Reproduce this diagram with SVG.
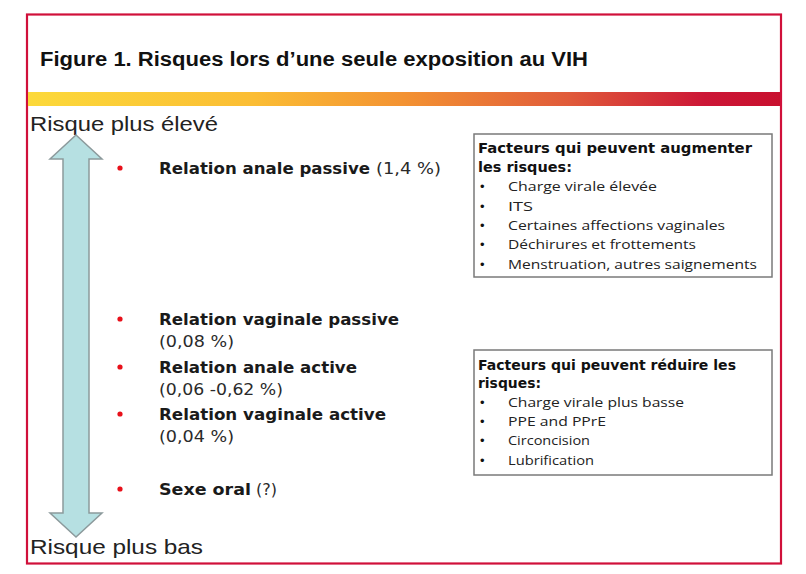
<svg xmlns="http://www.w3.org/2000/svg" width="806" height="574" viewBox="0 0 806 574">
<defs>
<linearGradient id="band" x1="0" y1="0" x2="1" y2="0">
<stop offset="0" stop-color="#fcd93a"/>
<stop offset="0.3" stop-color="#fbbd34"/>
<stop offset="0.5" stop-color="#f39232"/>
<stop offset="0.72" stop-color="#e05a3a"/>
<stop offset="0.9" stop-color="#cc1636"/>
<stop offset="1" stop-color="#c8102e"/>
</linearGradient>
</defs>
<style>
.title{font-family:"Liberation Sans",Arial,sans-serif;font-weight:bold;font-size:20px;fill:#111}
.axis{font-family:"Liberation Sans",Arial,sans-serif;font-size:21px;fill:#222}
.rb{font-family:"DejaVu Sans",Verdana,sans-serif;font-weight:bold;font-size:16px;fill:#1a1a1a}
.rn{font-family:"DejaVu Sans",Verdana,sans-serif;font-size:16px;fill:#2a2a2a}
.dot{fill:#e8101a}
.box{fill:#fff;stroke:#7a7a7a;stroke-width:1.5}
.bh{font-family:"DejaVu Sans",Verdana,sans-serif;font-weight:bold;font-size:13.5px;fill:#111}
.bi{font-family:"Open Sans","Noto Sans",sans-serif;font-size:13.5px;fill:#222}
.bul{font-family:"Liberation Sans",Arial,sans-serif;font-size:13px;fill:#111}
</style>
<rect x="0" y="0" width="806" height="574" fill="#fff"/>
<rect x="27" y="14.5" width="754" height="549" fill="#fff" stroke="#d0103a" stroke-width="2.2"/>
<text class="title" x="40" y="66" textLength="548" lengthAdjust="spacingAndGlyphs">Figure 1. Risques lors d’une seule exposition au VIH</text>
<rect x="28" y="92" width="752" height="14" fill="url(#band)"/>
<text class="axis" x="30" y="131" textLength="188" lengthAdjust="spacingAndGlyphs">Risque plus élevé</text>
<text class="axis" x="30" y="554" textLength="173" lengthAdjust="spacingAndGlyphs">Risque plus bas</text>
<g id="arrow">
<path d="M76,135 L102,159 L89,159 L89,513 L102,513 L76,537 L50,513 L63,513 L63,159 L50,159 Z" fill="#b6e0e2" stroke="#8c9a9c" stroke-width="1.5" stroke-linejoin="miter"/>
</g>
<g id="risk1">
<circle class="dot" cx="120" cy="168" r="2.6"/>
<text x="159" y="174"><tspan class="rb" textLength="211" lengthAdjust="spacingAndGlyphs">Relation anale passive</tspan><tspan class="rn" x="376" textLength="65" lengthAdjust="spacingAndGlyphs">(1,4 %)</tspan></text>
</g>
<g id="risk2">
<circle class="dot" cx="120" cy="319" r="2.6"/>
<text class="rb" x="159" y="325" textLength="240" lengthAdjust="spacingAndGlyphs">Relation vaginale passive</text>
<text class="rn" x="159" y="347" textLength="75" lengthAdjust="spacingAndGlyphs">(0,08 %)</text>
</g>
<g id="risk3">
<circle class="dot" cx="120" cy="367" r="2.6"/>
<text class="rb" x="159" y="373" textLength="198" lengthAdjust="spacingAndGlyphs">Relation anale active</text>
<text class="rn" x="159" y="395" textLength="124" lengthAdjust="spacingAndGlyphs">(0,06 -0,62 %)</text>
</g>
<g id="risk4">
<circle class="dot" cx="120" cy="414" r="2.6"/>
<text class="rb" x="159" y="420" textLength="227" lengthAdjust="spacingAndGlyphs">Relation vaginale active</text>
<text class="rn" x="159" y="442" textLength="75" lengthAdjust="spacingAndGlyphs">(0,04 %)</text>
</g>
<g id="risk5">
<circle class="dot" cx="120" cy="489" r="2.6"/>
<text x="159" y="495"><tspan class="rb" textLength="92" lengthAdjust="spacingAndGlyphs">Sexe oral</tspan><tspan class="rn" x="256" textLength="21" lengthAdjust="spacingAndGlyphs">(?)</tspan></text>
</g>
<g id="box-augmenter">
<rect class="box" x="474" y="134" width="298" height="143"/>
<text class="bh" x="478" y="153" textLength="274" lengthAdjust="spacingAndGlyphs">Facteurs qui peuvent augmenter</text>
<text class="bh" x="478" y="172" textLength="94" lengthAdjust="spacingAndGlyphs">les risques:</text>
<text class="bul" x="480" y="191">•</text><text class="bi" x="508" y="191" textLength="149" lengthAdjust="spacingAndGlyphs">Charge virale élevée</text>
<text class="bul" x="480" y="211">•</text><text class="bi" x="508" y="211" textLength="25" lengthAdjust="spacingAndGlyphs">ITS</text>
<text class="bul" x="480" y="230">•</text><text class="bi" x="508" y="230" textLength="217" lengthAdjust="spacingAndGlyphs">Certaines affections vaginales</text>
<text class="bul" x="480" y="249">•</text><text class="bi" x="508" y="249" textLength="188" lengthAdjust="spacingAndGlyphs">Déchirures et frottements</text>
<text class="bul" x="480" y="269">•</text><text class="bi" x="508" y="269" textLength="249" lengthAdjust="spacingAndGlyphs">Menstruation, autres saignements</text>
</g>
<g id="box-reduire">
<rect class="box" x="474" y="350" width="298" height="125"/>
<text class="bh" x="478" y="370" textLength="258" lengthAdjust="spacingAndGlyphs">Facteurs qui peuvent réduire les</text>
<text class="bh" x="478" y="388" textLength="63" lengthAdjust="spacingAndGlyphs">risques:</text>
<text class="bul" x="480" y="407">•</text><text class="bi" x="508" y="407" textLength="176" lengthAdjust="spacingAndGlyphs">Charge virale plus basse</text>
<text class="bul" x="480" y="426">•</text><text class="bi" x="508" y="426" textLength="98" lengthAdjust="spacingAndGlyphs">PPE and PPrE</text>
<text class="bul" x="480" y="445">•</text><text class="bi" x="508" y="445" textLength="82" lengthAdjust="spacingAndGlyphs">Circoncision</text>
<text class="bul" x="480" y="465">•</text><text class="bi" x="508" y="465" textLength="86" lengthAdjust="spacingAndGlyphs">Lubrification</text>
</g>
</svg>
